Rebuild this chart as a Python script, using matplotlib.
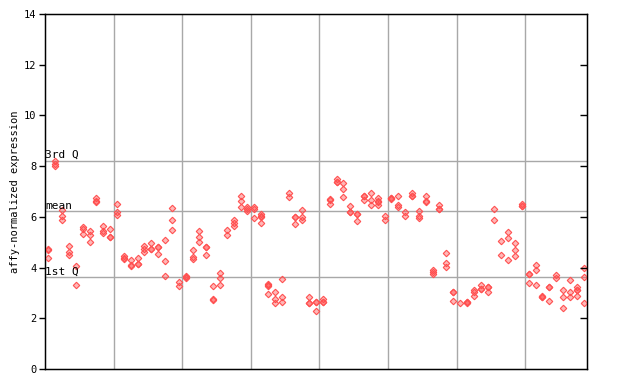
import matplotlib
matplotlib.use("Agg")
import matplotlib.pyplot as plt

# replicate values per sample, 79 samples
expr = [
    [4.72, 4.70, 4.36], [8.20, 8.10, 8.02], [6.28, 6.05, 5.88], [4.84, 4.63, 4.51],
    [4.06, 3.33], [5.60, 5.52, 5.34], [5.43, 5.28, 5.00], [6.76, 6.63, 6.60],
    [5.64, 5.45, 5.35], [5.54, 5.22, 5.20], [6.52, 6.21, 6.06], [4.45, 4.37, 4.35],
    [4.29, 4.10, 4.08], [4.36, 4.16, 4.14], [4.86, 4.75, 4.63], [4.95, 4.75, 4.73],
    [4.83, 4.81, 4.55], [5.10, 4.25, 3.66], [6.36, 5.87, 5.50], [3.44, 3.27],
    [3.65, 3.62, 3.60], [4.69, 4.42, 4.32], [5.43, 5.21, 5.00], [4.83, 4.81, 4.51],
    [3.27, 2.78, 2.72], [3.77, 3.57, 3.33], [5.50, 5.28], [5.89, 5.74, 5.64],
    [6.81, 6.61, 6.40], [6.39, 6.30, 6.23], [6.39, 6.30, 5.97], [6.10, 6.03, 6.01, 5.75],
    [3.37, 3.30, 3.27, 2.94], [3.02, 2.78, 2.59], [3.54, 2.85, 2.65], [6.96, 6.80],
    [6.01, 5.99, 5.71], [6.29, 6.00, 5.87], [2.85, 2.62, 2.60], [2.66, 2.64, 2.28],
    [2.77, 2.66, 2.64], [6.70, 6.68, 6.50], [7.48, 7.39, 7.37], [7.32, 7.11, 6.80],
    [6.42, 6.20, 6.18], [6.13, 6.11, 5.85], [6.83, 6.81, 6.67], [6.93, 6.65, 6.48],
    [6.73, 6.62, 6.60, 6.48], [6.02, 5.87], [6.75, 6.73, 6.70], [6.84, 6.48, 6.39],
    [6.21, 6.02], [6.95, 6.83, 6.81], [6.23, 6.04, 5.97], [6.82, 6.62, 6.60],
    [3.90, 3.81, 3.73], [6.46, 6.32, 6.30], [4.59, 4.20, 4.04], [3.05, 3.03, 2.70],
    [2.62], [2.65, 2.63, 2.61], [3.11, 3.02, 2.86], [3.33, 3.17, 3.15],
    [3.25, 3.23, 3.04], [6.30, 5.89], [5.03, 4.51], [5.39, 5.18, 4.28],
    [4.95, 4.71, 4.44], [6.51, 6.44, 6.42], [3.76, 3.74, 3.41], [4.09, 3.92, 3.33],
    [2.87, 2.85, 2.83], [3.25, 3.23, 2.68], [3.69, 3.60], [3.10, 2.83, 2.39],
    [3.50, 3.02, 2.83], [3.24, 3.12, 3.10, 2.86], [3.99, 3.62, 2.59],
]

q1, mean_val, q3 = 3.62, 6.22, 8.22
yticks = [0, 2, 4, 6, 8, 10, 12, 14]
group_edges = [9.5, 19.5, 29.5, 39.5, 49.5, 59.5, 69.5]

red = "#ff5050"
mono = "DejaVu Sans Mono"

fig = plt.figure(figsize=(6.4, 3.84), dpi=100)
ax = fig.add_axes([45 / 640, 15 / 384, 542 / 640, 355 / 384])

for x in group_edges:
    ax.axvline(x, color="#a8a8a8", lw=1, zorder=1)
for y in (q1, mean_val, q3):
    ax.axhline(y, color="#a8a8a8", lw=1, zorder=1)

for i, vals in enumerate(expr):
    ax.plot([i] * len(vals), vals, linestyle="none", marker="D", markersize=3.3,
            markerfacecolor=(1, 0.31, 0.31, 0.4), markeredgecolor=red,
            markeredgewidth=0.8, zorder=3)

ax.set_xlim(-0.5, 78.5)
ax.set_ylim(0, 14)
ax.set_xticks([])
ax.set_yticks(yticks)
ax.set_yticklabels([str(t) for t in yticks], fontfamily=mono, fontsize=7.5)
ax.tick_params(axis="y", direction="out", length=4, width=1, pad=2)

# inward ticks on the right side
ax2 = ax.twinx()
ax2.set_ylim(0, 14)
ax2.set_yticks(yticks[1:-1])
ax2.set_yticklabels([])
ax2.tick_params(axis="y", direction="in", length=5, width=1)

for sp in ax.spines.values():
    sp.set_linewidth(1)
    sp.set_color("black")

ax.set_ylabel("affy-normalized expression", fontfamily=mono, fontsize=7.5, labelpad=3)

for label, y in (("3rd Q", q3), ("mean", mean_val), ("1st Q", q1)):
    ax.text(-0.45, y + 0.02, label, fontfamily=mono, fontsize=8,
            va="bottom", ha="left", zorder=4)

fig.savefig("out.png", dpi=100)
